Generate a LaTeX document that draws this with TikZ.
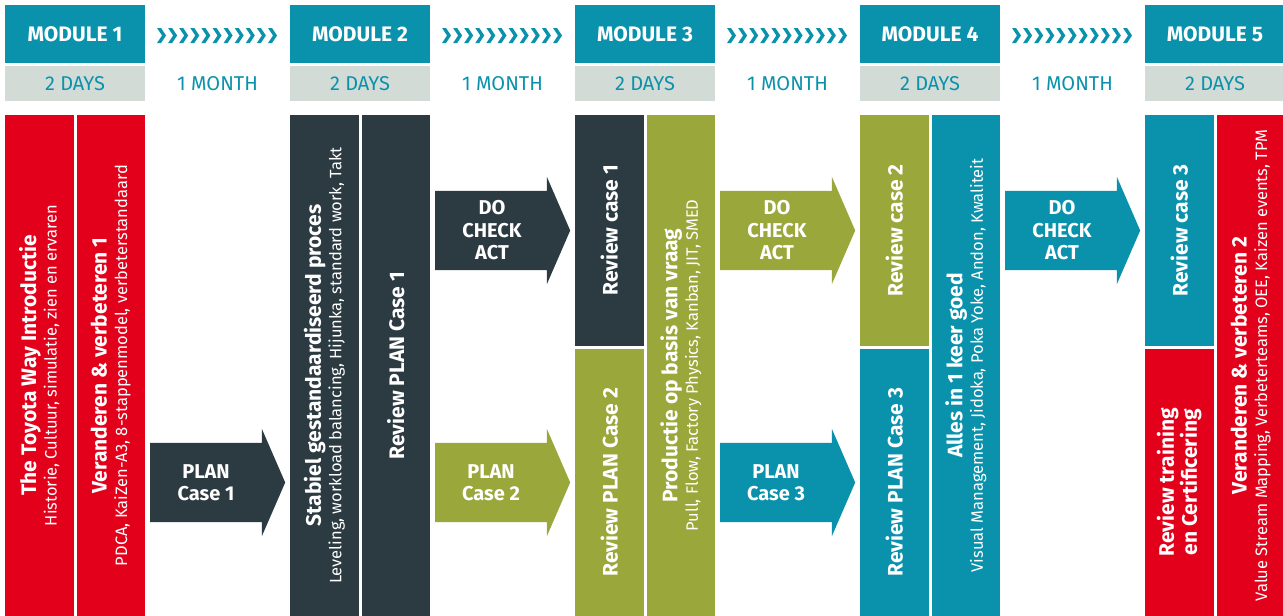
\documentclass[tikz,border=0pt]{standalone}
\usepackage{fontspec}
\setmainfont{Fira Sans}
\usetikzlibrary{shapes.arrows}
\definecolor{lteal}{HTML}{0A92AC}
\definecolor{lslate}{HTML}{2B3B41}
\definecolor{lolive}{HTML}{9AA73B}
\definecolor{lred}{HTML}{E2001A}
\definecolor{lgray}{HTML}{D3DBD6}
\newcommand\paneltitle[2]{{\fontsize{21}{20.5}\selectfont\bfseries #1}\\{\fontsize{16.5}{20.5}\selectfont #2}}
\begin{document}
\begin{tikzpicture}[x=1pt, y=-1pt,
  module/.style={rectangle, fill=lteal, text=white, minimum width=140pt, minimum height=58pt, inner sep=0pt, font=\fontsize{21}{21}\selectfont\bfseries},
  days/.style={rectangle, fill=lgray, text=lteal, minimum width=140pt, minimum height=35pt, inner sep=0pt, font=\fontsize{20}{20}\selectfont},
  month/.style={text=lteal, inner sep=0pt, font=\fontsize{20}{20}\selectfont},
  panel/.style={rectangle, rotate=90, text=white, align=center, inner sep=0pt, minimum height=68.5pt, font=\fontsize{16.5}{20.5}\selectfont},
  fullpanel/.style={panel, minimum width=501pt},
  uphalf/.style={panel, minimum width=230.5pt, font=\fontsize{21}{23}\selectfont\bfseries},
  lowhalf/.style={panel, minimum width=267.5pt, font=\fontsize{21}{23}\selectfont\bfseries},
  cycle arrow/.style={single arrow, single arrow head extend=14pt, single arrow tip angle=133, inner xsep=0pt, inner ysep=39.5pt, minimum height=135pt, anchor=tail},
  arrow label/.style={text=white, align=center, inner sep=0pt, font=\fontsize{20}{22.5}\selectfont\bfseries}]
  \useasboundingbox (0,0) rectangle (1283,616);

  % header row
  \foreach \k/\x in {1/75,2/360,3/645,4/930,5/1215}{
    \node[module] (m\k) at (\x,34) {MODULE \k};
    \node[days] (d\k) at (\x,83.5) {2 DAYS};
  }
  \foreach \g/\x in {1/217.5,2/502.5,3/787.5,4/1072.5}{
    \node[month] (t\g) at (\x,84) {1 MONTH};
    \foreach \i in {0,...,10}
      \fill[lteal] ({\x-60.5+11.1*\i},28) -- ++(4,0) -- ++(5,7.5) -- ++(-5,7.5) -- ++(-4,0) -- ++(5,-7.5) -- cycle;
  }

  % module 1
  \node[fullpanel, fill=lred] (p1a) at (39.25,365.5) {\paneltitle{The Toyota Way Introductie}{Historie, Cultuur, simulatie, zien en ervaren}};
  \node[fullpanel, fill=lred] (p1b) at (110.75,365.5) {\paneltitle{Veranderen \& verbeteren 1}{PDCA, KaiZen-A3, 8-stappenmodel, verbeterstandaard}};

  % module 2
  \node[fullpanel, fill=lslate] (p2a) at (324.25,365.5) {\paneltitle{Stabiel gestandaardiseerd proces}{Leveling, workload balancing, Hijunka, standard work, Takt}};
  \node[fullpanel, fill=lslate, font=\fontsize{21}{23}\selectfont\bfseries] (p2b) at (395.75,365.5) {Review PLAN Case 1};

  % module 3
  \node[uphalf, fill=lslate] (p3t) at (609.25,230.25) {Review case 1};
  \node[lowhalf, fill=lolive] (p3l) at (609.25,482.25) {Review PLAN Case 2};
  \node[fullpanel, fill=lolive] (p3b) at (680.75,365.5) {\paneltitle{Productie op basis van vraag}{Pull, Flow, Factory Physics, Kanban, JIT, SMED}};

  % module 4
  \node[uphalf, fill=lolive] (p4t) at (894.25,230.25) {Review case 2};
  \node[lowhalf, fill=lteal] (p4l) at (894.25,482.25) {Review PLAN Case 3};
  \node[fullpanel, fill=lteal] (p4b) at (965.75,365.5) {\paneltitle{Alles in 1 keer goed}{Visual Management, Jidoka, Poka Yoke, Andon, Kwaliteit}};

  % module 5
  \node[uphalf, fill=lteal] (p5t) at (1179.25,230.25) {Review case 3};
  \node[lowhalf, fill=lred] (p5l) at (1179.25,482.25) {Review training\\en Certificering};
  \node[fullpanel, fill=lred] (p5b) at (1250.75,365.5) {\paneltitle{Veranderen \& verbeteren 2}{Value Stream Mapping, Verbeterteams, OEE, Kaizen events, TPM}};

  % plan / do check act
  \node[cycle arrow, fill=lslate] (plan1) at (150,482.5) {};
  \node[arrow label] (lplan1) at (206,482.5) {PLAN\\Case 1};
  \node[cycle arrow, fill=lolive] (plan2) at (435,482.5) {};
  \node[arrow label] (lplan2) at (491,482.5) {PLAN\\Case 2};
  \node[cycle arrow, fill=lteal] (plan3) at (720,482.5) {};
  \node[arrow label] (lplan3) at (776,482.5) {PLAN\\Case 3};
  \node[cycle arrow, fill=lslate] (dca2) at (435,230.5) {};
  \node[arrow label] (ldca2) at (492,230.5) {DO\\CHECK\\ACT};
  \node[cycle arrow, fill=lolive] (dca3) at (720,230.5) {};
  \node[arrow label] (ldca3) at (777,230.5) {DO\\CHECK\\ACT};
  \node[cycle arrow, fill=lteal] (dca4) at (1005,230.5) {};
  \node[arrow label] (ldca4) at (1062,230.5) {DO\\CHECK\\ACT};
\end{tikzpicture}
\end{document}
